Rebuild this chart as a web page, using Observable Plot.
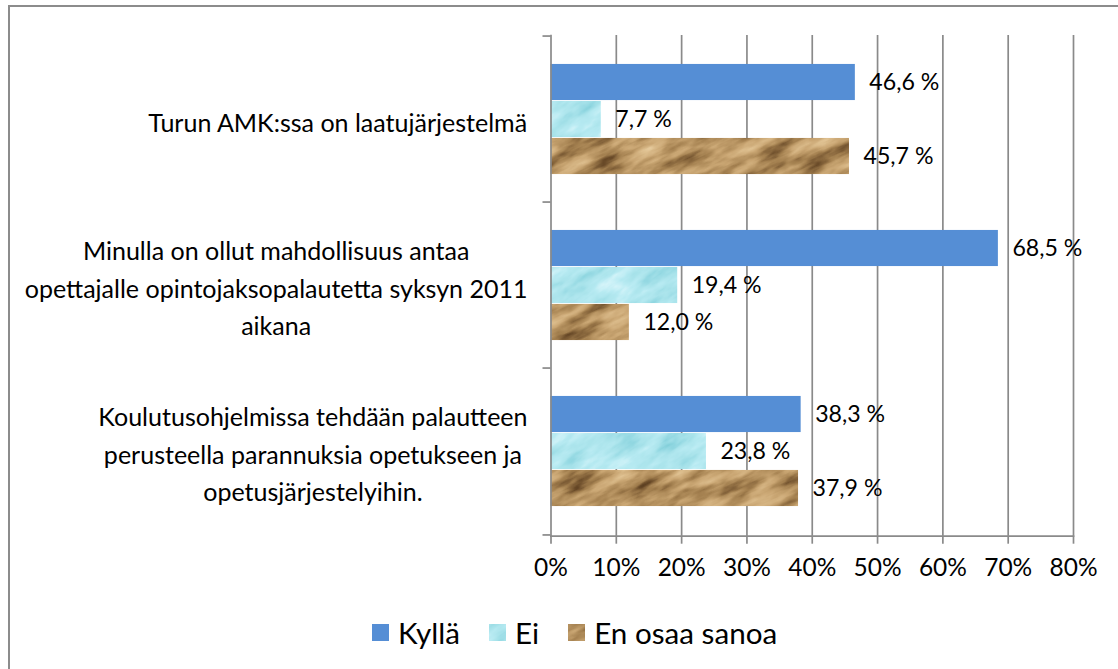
<!DOCTYPE html>
<html><head><meta charset="utf-8">
<script src="https://cdn.jsdelivr.net/npm/d3@7"></script>
<script src="https://cdn.jsdelivr.net/npm/@observablehq/plot@0.6"></script>
<style>
body{margin:0;background:#fff;font-family:Lato,sans-serif;}
#wrap{position:relative;width:1118px;height:669px;overflow:hidden;background:#fff}
#border{position:absolute;left:8px;top:5px;width:1300px;height:900px;border:2px solid #8c8c8c;box-sizing:border-box}
#chart{position:absolute;left:0;top:0}
#legend{position:absolute;left:372px;top:612px;height:40px;display:flex;align-items:center;color:#000;font-family:Lato,sans-serif}
.item{display:flex;align-items:center}
.sw{width:17px;height:17px;display:block}
</style></head><body>
<svg width="0" height="0" style="position:absolute;left:0;top:0">
<defs>
 <filter id="fEi" x="0" y="0" width="100%" height="100%" color-interpolation-filters="sRGB">
  <feTurbulence type="fractalNoise" baseFrequency="0.025 0.07" numOctaves="4" seed="7"/>
  <feColorMatrix type="matrix" values="1 0 0 0 0  1 0 0 0 0  1 0 0 0 0  0 0 0 0 1"/>
  <feComponentTransfer>
   <feFuncR type="table" tableValues="0.42 0.56 0.66 0.72 0.84 1"/>
   <feFuncG type="table" tableValues="0.76 0.84 0.89 0.92 0.96 1"/>
   <feFuncB type="table" tableValues="0.8 0.88 0.92 0.95 0.98 1"/>
   <feFuncA type="discrete" tableValues="1"/>
  </feComponentTransfer>
 </filter>
 <filter id="fEos" x="0" y="0" width="100%" height="100%" color-interpolation-filters="sRGB">
  <feTurbulence type="fractalNoise" baseFrequency="0.02 0.07" numOctaves="4" seed="11"/>
  <feColorMatrix type="matrix" values="1 0 0 0 0  1 0 0 0 0  1 0 0 0 0  0 0 0 0 1"/>
  <feComponentTransfer>
   <feFuncR type="table" tableValues="0.22 0.4 0.64 0.79 0.87 0.96"/>
   <feFuncG type="table" tableValues="0.14 0.28 0.5 0.65 0.75 0.88"/>
   <feFuncB type="table" tableValues="0.06 0.15 0.31 0.45 0.56 0.72"/>
   <feFuncA type="discrete" tableValues="1"/>
  </feComponentTransfer>
 </filter>
 <pattern id="pEi" patternUnits="userSpaceOnUse" x="-600" y="-600" width="2400" height="2400" patternTransform="rotate(-35)"><rect width="2400" height="2400" filter="url(#fEi)"/></pattern>
 <pattern id="pEos" patternUnits="userSpaceOnUse" x="-600" y="-600" width="2400" height="2400" patternTransform="rotate(-25)"><rect width="2400" height="2400" filter="url(#fEos)"/></pattern>
</defs></svg>
<div id="wrap"><div id="border"></div><div id="chart"></div><div id="legend"></div></div>
<script>
// ---- data ----
const questions = [
  "Turun AMK:ssa on laatujärjestelmä",
  "Minulla on ollut mahdollisuus antaa\nopettajalle opintojaksopalautetta syksyn 2011\naikana",
  "Koulutusohjelmissa tehdään palautteen\nperusteella parannuksia opetukseen ja\nopetusjärjestelyihin."
];
const seriesNames = ["Kyllä", "Ei", "En osaa sanoa"];
const kylla = [46.6, 68.5, 38.3];
const ei = [7.7, 19.4, 23.8];
const enOsaa = [45.7, 12.0, 37.9];
const xTicks = [0, 10, 20, 30, 40, 50, 60, 70, 80];

// ---- styling ----
const fills = ["#558ed5", "url(#pEi)", "url(#pEos)"];
const values = [kylla, ei, enOsaa];
const gridColor = "#8a8a8a";
const font = "Lato";

const ctx = document.createElement("canvas").getContext("2d");
function measure(t, fs) { ctx.font = `${fs}px ${font}`; return ctx.measureText(t).width; }
const labelFs = 24 * 380 / measure("Turun AMK:ssa on laatujärjestelmä", 24);
const tickFs = 24 * 48 / measure("80%", 24);
const valFs = 24 * 70 / measure("46,6 %", 24);
const legendFs = 24 * 183 / measure("En osaa sanoa", 24);

const W = 1118, H = 600;
const mL = 550.5, mR = 45, mT = 35, axisY0 = 535.7;
const bw = (axisY0 - mT) / 3;
const barH = 37;
const pad = (bw - 3 * barH) / 2;

const fmt = v => v.toFixed(1).replace(".", ",") + " %";

const barMarks = [], valMarks = [];
seriesNames.forEach((s, i) => {
  const rows = questions.map((q, j) => ({q, s, v: values[i][j]}));
  const top = pad + i * barH;
  barMarks.push(Plot.barX(rows, {x: "v", y: "q", fill: fills[i], insetTop: top, insetBottom: bw - top - barH}));
  valMarks.push(Plot.text(rows, {x: "v", y: "q", text: d => fmt(d.v), dx: 14, dy: (i - 1) * barH, textAnchor: "start", fontSize: valFs, fill: "#000"}));
});

const labelMarks = questions.map(q => {
  const maxW = d3.max(q.split("\n"), l => measure(l, labelFs));
  const right = 527;
  return Plot.text([q], {y: d => d, text: d => d, frameAnchor: "left", textAnchor: "middle",
    dx: (right - maxW / 2) - mL, fontSize: labelFs, lineHeight: 37.5 / labelFs, fill: "#000"});
});

const chart = Plot.plot({
  width: W, height: H,
  marginLeft: mL, marginRight: mR, marginTop: mT, marginBottom: H - axisY0,
  style: {fontFamily: font, background: "transparent", color: "#000"},
  x: {domain: [0, 80], axis: null},
  y: {domain: questions, padding: 0, axis: null},
  marks: [
    Plot.gridX(xTicks.slice(1), {stroke: gridColor, strokeOpacity: 1, strokeWidth: 1.7}),
    ...barMarks,
    Plot.frame({anchor: "left", stroke: gridColor, strokeWidth: 1.7}),
    Plot.frame({anchor: "bottom", stroke: gridColor, strokeWidth: 1.7}),
    Plot.axisX(xTicks, {label: null, tickSize: 8, tickPadding: 14, stroke: gridColor, strokeWidth: 1.7, tickFormat: d => d + "%", fontSize: tickFs, fill: "#000"}),
    Plot.axisY(questions, {label: null, tickSize: 8, dy: -bw / 2, stroke: gridColor, strokeWidth: 1.7, tickFormat: () => ""}),
    Plot.axisY([questions[2]], {label: null, tickSize: 8, dy: bw / 2, stroke: gridColor, strokeWidth: 1.7, tickFormat: () => ""}),
    ...labelMarks,
    ...valMarks
  ]
});
document.getElementById("chart").appendChild(chart);

// ---- legend ----
const legend = document.getElementById("legend");
legend.style.fontSize = legendFs + "px";
seriesNames.forEach((s, i) => {
  const item = document.createElement("div");
  item.className = "item";
  item.style.marginRight = i < 2 ? "29px" : "0";
  item.innerHTML = `<svg class="sw" width="17" height="17"><rect width="17" height="17" fill="${fills[i]}"/></svg><span style="margin-left:9px">${s}</span>`;
  legend.appendChild(item);
});
</script>
</body></html>
